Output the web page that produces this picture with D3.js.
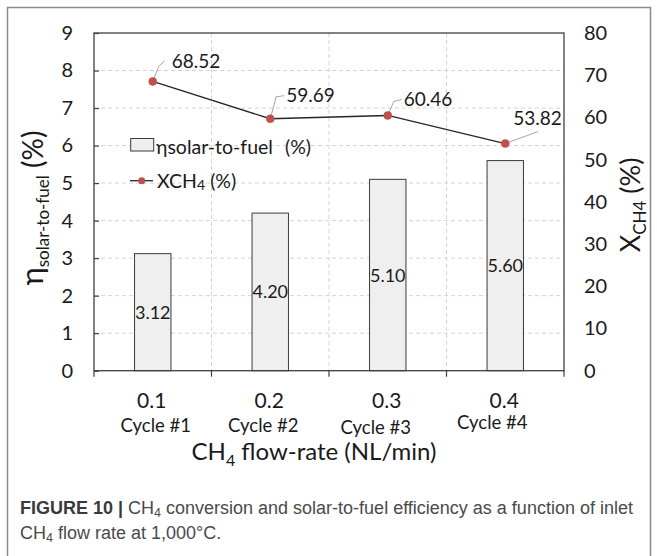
<!DOCTYPE html>
<html>
<head>
<meta charset="utf-8">
<script src="https://cdn.jsdelivr.net/npm/d3@7/dist/d3.min.js"></script>
<style>
  html, body { margin: 0; padding: 0; background: #fff; }
  svg { display: block; }
  text { font-family: Lato, "Open Sans", sans-serif; fill: #1a1a1a; }
  .cap { font-family: "Liberation Sans", Arial, sans-serif; fill: #4a4a4a; }
</style>
</head>
<body>
<svg id="chart" width="657" height="556"></svg>
<script>
// ---- data ----
const flowRates = ["0.1", "0.2", "0.3", "0.4"];
const cycles = ["Cycle #1", "Cycle #2", "Cycle #3", "Cycle #4"];
const efficiency = [3.12, 4.20, 5.10, 5.60];      // η solar-to-fuel (%)
const conversion = [68.52, 59.69, 60.46, 53.82];  // X CH4 (%)
const leftTicks = [0, 1, 2, 3, 4, 5, 6, 7, 8, 9];
const rightTicks = [0, 10, 20, 30, 40, 50, 60, 70, 80];

const svg = d3.select("#chart");

// outer frame
svg.append("rect").attr("x", 7.5).attr("y", 7.5).attr("width", 643).attr("height", 560)
  .attr("fill", "none").attr("stroke", "#8a8a8a").attr("stroke-width", 1.5);

const L = 94, R = 564, T = 33, B = 370.7;
const x = d3.scaleBand().domain(flowRates).range([L, R]).paddingInner(0).paddingOuter(0);
const yL = d3.scaleLinear().domain([0, 9]).range([B, T]);
const yR = d3.scaleLinear().domain([0, 80]).range([B, T]);
const bw = x.bandwidth();

// grid
const g = svg.append("g");
g.selectAll(".hg").data(leftTicks.filter(d => d > 0 && d < 9)).join("line")
  .attr("x1", L).attr("x2", R).attr("y1", d => yL(d)).attr("y2", d => yL(d))
  .attr("stroke", "#d4d4d4").attr("stroke-width", 1).attr("stroke-dasharray", "4,3");
g.selectAll(".vg").data(flowRates.slice(1)).join("line")
  .attr("x1", d => x(d)).attr("x2", d => x(d)).attr("y1", T).attr("y2", B)
  .attr("stroke", "#d4d4d4").attr("stroke-width", 1).attr("stroke-dasharray", "4,3");

// bars
const barW = bw * 0.31;
svg.selectAll(".bar").data(efficiency).join("rect")
  .attr("x", (d, i) => x(flowRates[i]) + bw / 2 - barW / 2)
  .attr("y", d => yL(d))
  .attr("width", barW)
  .attr("height", d => B - yL(d))
  .attr("fill", "#efefef").attr("stroke", "#3a3a3a").attr("stroke-width", 1);

svg.selectAll(".blab").data(efficiency).join("text")
  .attr("x", (d, i) => x(flowRates[i]) + bw / 2)
  .attr("y", d => (yL(d) + B) / 2 + 6.5)
  .attr("text-anchor", "middle").attr("font-size", 18)
  .text(d => d.toFixed(2));

// plot border
svg.append("rect").attr("x", L).attr("y", T).attr("width", R - L).attr("height", B - T)
  .attr("fill", "none").attr("stroke", "#3f3f3f").attr("stroke-width", 1.3);

// left axis (ticks inside)
const axL = svg.append("g").attr("transform", `translate(${L},0)`)
  .call(d3.axisLeft(yL).tickValues(leftTicks).tickFormat(d3.format("d"))
    .tickSizeInner(-5).tickSizeOuter(0).tickPadding(21));
axL.select(".domain").remove();
axL.selectAll("line").attr("stroke", "#3f3f3f").attr("stroke-width", 1.2);
axL.selectAll("text").attr("font-size", 20).attr("font-family", "Lato, sans-serif").attr("fill", "#1a1a1a");

// right axis
const axR = svg.append("g").attr("transform", `translate(${R},0)`)
  .call(d3.axisRight(yR).tickValues(rightTicks).tickFormat(d3.format("d"))
    .tickSize(0).tickPadding(20));
axR.select(".domain").remove();
axR.selectAll("text").attr("font-size", 20).attr("font-family", "Lato, sans-serif").attr("fill", "#1a1a1a");

// x axis ticks at band boundaries (outside)
const bounds = flowRates.map(d => x(d)).concat([R]);
svg.selectAll(".xt").data(bounds).join("line")
  .attr("x1", d => d).attr("x2", d => d).attr("y1", B).attr("y2", B + 6)
  .attr("stroke", "#3f3f3f").attr("stroke-width", 1.2);

const axB = svg.append("g").attr("transform", `translate(0,${B})`)
  .call(d3.axisBottom(x).tickSize(0).tickPadding(18));
axB.select(".domain").remove();
axB.selectAll("text").attr("font-size", 21).attr("font-family", "Lato, sans-serif").attr("fill", "#1a1a1a")
  .attr("dy", "0.9em");
axB.selectAll("text").attr("y", 0).attr("transform", "translate(-1,18)");

// cycle labels (slight manual nudges as in the source figure)
const cycDx = [3, -7, -12, -13], cycY = [432, 432, 434, 429];
svg.selectAll(".cyc").data(cycles).join("text")
  .attr("x", (d, i) => x(flowRates[i]) + bw / 2 + cycDx[i])
  .attr("y", (d, i) => cycY[i])
  .attr("text-anchor", "middle").attr("font-size", 18.5)
  .text(d => d);

// x title
const xt = svg.append("text").attr("x", 314).attr("y", 460).attr("text-anchor", "middle").attr("font-size", 24);
xt.append("tspan").text("CH");
xt.append("tspan").attr("font-size", 16).attr("dy", 6).text("4");
xt.append("tspan").attr("dy", -6).text(" flow-rate (NL/min)");

// left title
const lt = svg.append("text").attr("transform", "translate(43,208) rotate(-90)")
  .attr("text-anchor", "middle").attr("font-size", 28);
lt.append("tspan").attr("font-size", 31).text("η");
lt.append("tspan").attr("font-size", 17).attr("dy", 6).text("solar-to-fuel");
lt.append("tspan").attr("dy", -6).text(" (%)");

// right title
const rt = svg.append("text").attr("transform", "translate(640,205) rotate(-90)")
  .attr("text-anchor", "middle").attr("font-size", 27);
rt.append("tspan").text("X");
rt.append("tspan").attr("font-size", 17).attr("dy", 6).text("CH4");
rt.append("tspan").attr("dy", -6).text(" (%)");

// line series
const px = (d, i) => x(flowRates[i]) + bw / 2;
const line = d3.line().x((d, i) => px(d, i)).y(d => yR(d));
svg.append("path").datum(conversion).attr("d", line)
  .attr("fill", "none").attr("stroke", "#262626").attr("stroke-width", 1.3);

// leader lines and labels
const lab = [
  { dx: 19, dy: -20, lead: [[6, -15], [12, -21]] },
  { dx: 16, dy: -24, lead: [[6, -22], [14, -23]] },
  { dx: 16, dy: -16, lead: [[6, -14], [14, -16]] },
  { dx: 8,  dy: -26, lead: [[33, -12], [33, -12]] }
];
conversion.forEach((v, i) => {
  const cx = px(v, i), cy = yR(v);
  const o = lab[i];
  svg.append("path")
    .attr("d", `M${cx},${cy}L${cx + o.lead[0][0]},${cy + o.lead[0][1]}L${cx + o.lead[1][0]},${cy + o.lead[1][1]}`)
    .attr("fill", "none").attr("stroke", "#a6a6a6").attr("stroke-width", 1);
});
svg.selectAll(".pt").data(conversion).join("circle")
  .attr("cx", (d, i) => px(d, i)).attr("cy", d => yR(d)).attr("r", 4)
  .attr("fill", "#c0504d").attr("stroke", "#c0504d").attr("stroke-width", 0.5);
svg.selectAll(".plab").data(conversion).join("text")
  .attr("x", (d, i) => px(d, i) + lab[i].dx)
  .attr("y", (d, i) => yR(d) + lab[i].dy + 7)
  .attr("font-size", 19)
  .text(d => d.toFixed(2));

// legend
svg.append("rect").attr("x", 130.7).attr("y", 138.5).attr("width", 23).attr("height", 12.5)
  .attr("fill", "#efefef").attr("stroke", "#3a3a3a").attr("stroke-width", 1);
svg.append("text").attr("x", 156).attr("y", 153.5).attr("font-size", 19.5)
  .attr("word-spacing", 7).text("ηsolar-to-fuel (%)");
svg.append("line").attr("x1", 130).attr("x2", 153).attr("y1", 180.7).attr("y2", 180.7)
  .attr("stroke", "#262626").attr("stroke-width", 1.3);
svg.append("circle").attr("cx", 141.7).attr("cy", 180.7).attr("r", 3.5).attr("fill", "#c0504d");
const lg2 = svg.append("text").attr("x", 157).attr("y", 187.5).attr("font-size", 19.5);
lg2.append("tspan").text("XCH");
lg2.append("tspan").attr("font-size", 14).attr("dy", 2).text("4");
lg2.append("tspan").attr("dy", -2).text(" (%)");

// caption
const c1 = svg.append("text").attr("class", "cap").attr("x", 20).attr("y", 514).attr("font-size", 18);
c1.append("tspan").attr("font-weight", "bold").attr("fill", "#3a3a3a").text("FIGURE 10 | ");
c1.append("tspan").text("CH");
c1.append("tspan").attr("font-size", 12.5).attr("dy", 3).text("4");
c1.append("tspan").attr("dy", -3).text(" conversion and solar-to-fuel efficiency as a function of inlet");
const c2 = svg.append("text").attr("class", "cap").attr("x", 20).attr("y", 539).attr("font-size", 18);
c2.append("tspan").text("CH");
c2.append("tspan").attr("font-size", 12.5).attr("dy", 3).text("4");
c2.append("tspan").attr("dy", -3).text(" flow rate at 1,000°C.");
</script>
</body>
</html>
